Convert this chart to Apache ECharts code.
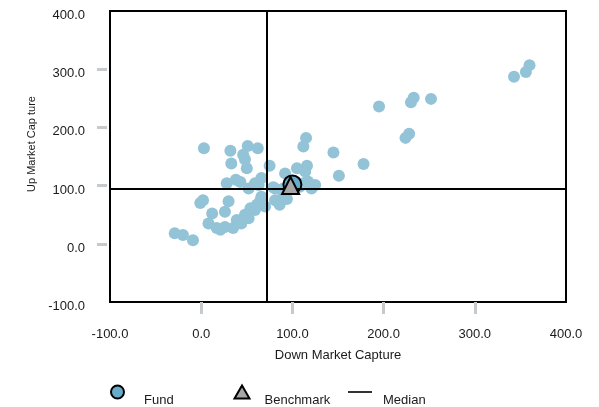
<!DOCTYPE html>
<html>
<head>
<meta charset="utf-8">
<script src="https://cdn.jsdelivr.net/npm/echarts@6/dist/echarts.min.js"></script>
<style>
  html, body { margin: 0; padding: 0; background: #fff; }
  #chart { width: 599px; height: 407px; }
</style>
</head>
<body>
<div id="chart"></div>
<script>
// Peer group: down market capture (x) and up market capture (y)
const peerDown = [
  360, 356, 343, 252, 233, 230, 195, 228, 224, 178, 151, 145, 115, 112,
  3, 32, 51, 62, 46, 48, 33, 50, 75, 92, 105, 116, 114, 117, 125, 121, 112, 108,
  59, 66, 81, 28, 38, 43, 52, 63, 79, 90,
  66, 61, 59, 81, 90, 94, 86, 70, -1, 2, 30, 26, 12, 54,
  8, 17, 26, 35, 44, 52, 48, 39, -29, -20, -9, 21, 65
];
const peerUp = [
  307, 295, 287, 249, 251, 243, 236, 189, 182, 137, 117, 157, 182, 167,
  164, 160, 168, 164, 153, 145, 138, 130, 134, 121, 130, 134, 124, 107, 101, 95, 104, 98,
  104, 113, 95, 104, 110, 106, 95, 101, 97, 95,
  81, 67, 58, 75, 84, 77, 67, 64, 70, 75, 73, 55, 52, 61,
  35, 27, 29, 27, 35, 44, 50, 41, 18, 15, 6, 24, 75
];

// Selected fund and its benchmark
const fundPoint = [100, 102];
const benchmarkPoint = [98, 100];

// Peer group medians
const medianDown = 72;
const medianUp = 94;

// Axis range and ticks
const axisMin = -100;
const axisMax = 400;
const axisStep = 100;
const innerTicks = [0, 100, 200, 300];

const FONT = 'Liberation Sans, Arial, Helvetica, sans-serif';
const TEXT = '#1a1a1a';

const peerData = peerDown.map((d, i) => [d, peerUp[i]]);

const chart = echarts.init(document.getElementById('chart'), null, { renderer: 'canvas' });

// Legend labels sit a little below their icons
function legendText(padLeft) {
  return {
    fontFamily: FONT, fontSize: 13, color: TEXT,
    rich: {
      t: { fontFamily: FONT, fontSize: 13, color: TEXT, padding: [16, 0, 0, padLeft] }
    }
  };
}

const legendBase = {
  orient: 'horizontal',
  top: 384.5,
  padding: 0,
  itemHeight: 13,
  selectedMode: false,
  formatter: '{t|{name}}'
};

chart.setOption({
  animation: false,
  backgroundColor: '#ffffff',
  textStyle: { fontFamily: FONT },
  grid: {
    left: 110, right: 33, top: 11, bottom: 105,
    show: true,
    borderColor: '#000000',
    borderWidth: 2,
    backgroundColor: 'transparent'
  },
  legend: [
    Object.assign({}, legendBase, {
      left: 110, itemWidth: 13,
      data: ['Fund'],
      textStyle: legendText(15)
    }),
    Object.assign({}, legendBase, {
      left: 233.5, itemWidth: 15,
      data: ['Benchmark'],
      textStyle: legendText(10)
    }),
    Object.assign({}, legendBase, {
      left: 348, top: 391, itemWidth: 24,
      data: [{ name: 'Median', icon: 'path://M0,0H24V2H0Z' }],
      textStyle: legendText(6)
    })
  ],
  xAxis: {
    type: 'value',
    min: axisMin, max: axisMax, interval: axisStep,
    name: 'Down Market Capture',
    nameLocation: 'middle',
    nameGap: 47,
    nameTextStyle: { fontFamily: FONT, fontSize: 13, color: TEXT },
    axisLine: { show: false, onZero: false },
    splitLine: { show: false },
    axisTick: {
      show: true, inside: false, length: 12,
      customValues: innerTicks,
      lineStyle: { color: '#c6cacd', width: 3 }
    },
    axisLabel: {
      margin: 26,
      fontFamily: FONT, fontSize: 13, color: TEXT,
      formatter: v => v.toFixed(1)
    }
  },
  yAxis: {
    type: 'value',
    min: axisMin, max: axisMax, interval: axisStep,
    offset: 3,
    name: 'Up Market Cap ture',
    nameLocation: 'middle',
    nameGap: 68,
    nameTextStyle: { fontFamily: FONT, fontSize: 11, color: TEXT, padding: [0, 0, 0, 25] },
    axisLine: { show: false, onZero: false },
    splitLine: { show: false },
    axisTick: {
      show: true, inside: false, length: 10,
      customValues: innerTicks,
      lineStyle: { color: '#c6cacd', width: 3 }
    },
    axisLabel: {
      margin: 22,
      verticalAlign: 'top',
      lineHeight: 9,
      fontFamily: FONT, fontSize: 13, color: TEXT,
      formatter: v => v.toFixed(1)
    }
  },
  series: [
    {
      name: 'Peers',
      type: 'scatter',
      data: peerData,
      symbol: 'circle',
      symbolSize: 12,
      itemStyle: { color: '#93c3d7', opacity: 1 },
      emphasis: { disabled: true },
      silent: true,
      z: 2
    },
    {
      // carries the two median reference lines
      name: 'Median',
      type: 'scatter',
      data: [],
      itemStyle: { color: '#000000' },
      markLine: {
        silent: true,
        symbol: 'none',
        label: { show: false },
        lineStyle: { color: '#000000', width: 2, type: 'solid' },
        emphasis: { disabled: true },
        data: [{ xAxis: medianDown }, { yAxis: medianUp }]
      },
      z: 3
    },
    {
      name: 'Fund',
      type: 'scatter',
      data: [fundPoint],
      symbol: 'circle',
      symbolSize: 18,
      itemStyle: { color: '#66abca', borderColor: '#000000', borderWidth: 2, opacity: 1 },
      emphasis: { disabled: true },
      silent: true,
      z: 4
    },
    {
      name: 'Benchmark',
      type: 'scatter',
      data: [benchmarkPoint],
      symbol: 'triangle',
      symbolSize: [17, 17],
      itemStyle: { color: '#a6a6a6', borderColor: '#000000', borderWidth: 2, opacity: 1 },
      emphasis: { disabled: true },
      silent: true,
      z: 5
    }
  ]
});
</script>
</body>
</html>
